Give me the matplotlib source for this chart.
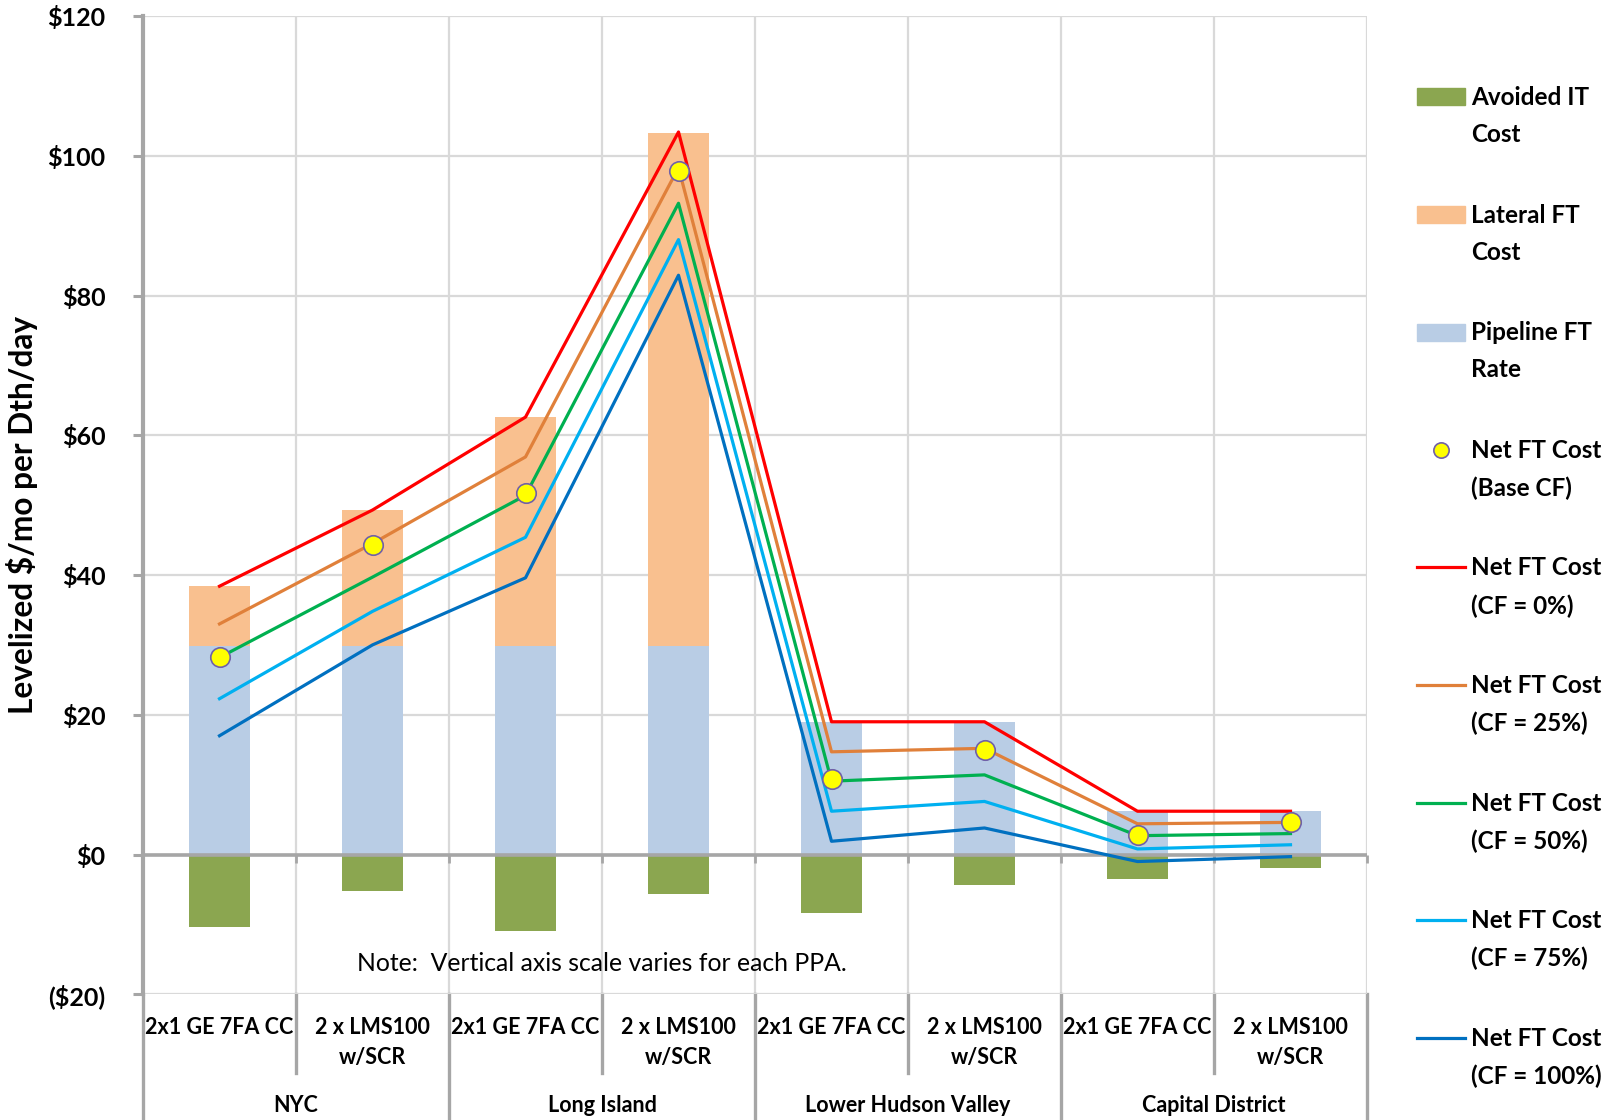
import numpy as np
import matplotlib
matplotlib.use("Agg")
from matplotlib import pyplot as plt
from matplotlib.lines import Line2D
from matplotlib.patches import Rectangle
import matplotlib.transforms as mtransforms

# ---------------- data ----------------
plants = ['2x1 GE 7FA CC', '2 x LMS100\nw/SCR'] * 4
regions = ['NYC', 'Long Island', 'Lower Hudson Valley', 'Capital District']

avoided_it = [-10.3, -5.2, -11.0, -5.6, -8.4, -4.3, -3.5, -1.9]
lateral_ft = [8.6, 19.5, 32.8, 73.4, 0.0, 0.0, 0.0, 0.0]
pipeline_ft = [29.8, 29.8, 29.8, 29.8, 19.0, 19.0, 6.2, 6.2]

net_base = [28.3, 44.3, 51.7, 97.8, 10.8, 15.0, 2.8, 4.6]
net_cf0 = [38.4, 49.3, 62.6, 103.4, 19.0, 19.0, 6.2, 6.2]
net_cf25 = [33.0, 44.5, 56.9, 98.3, 14.7, 15.2, 4.4, 4.6]
net_cf50 = [28.2, 39.7, 51.4, 93.2, 10.5, 11.4, 2.7, 3.0]
net_cf75 = [22.3, 34.8, 45.4, 88.0, 6.2, 7.6, 0.8, 1.4]
net_cf100 = [17.0, 30.0, 39.6, 82.9, 1.9, 3.8, -1.0, -0.3]

yticks = [-20, 0, 20, 40, 60, 80, 100, 120]
note = "Note:  Vertical axis scale varies for each PPA."

# ---------------- style ----------------
C_AVOID = '#8BA650'
C_LAT = '#F9C08F'
C_PIPE = '#B9CDE5'
C_LINES = ['#FF0000', '#E0803A', '#00B050', '#00B0F0', '#0070C0']
C_GRID = '#D9D9D9'
C_AXIS = '#A6A6A6'
FONT = 'Lato'

W, H = 1613, 1120
fig = plt.figure(figsize=(W / 100, H / 100), dpi=100)
ax = fig.add_axes([143 / W, 1 - 994.3 / H, (1367 - 143) / W, 978.3 / H])

x = np.arange(len(plants))
bw = 0.4

ax.bar(x, pipeline_ft, bw, color=C_PIPE, zorder=2)
ax.bar(x, lateral_ft, bw, bottom=pipeline_ft, color=C_LAT, zorder=2)
ax.bar(x, avoided_it, bw, color=C_AVOID, zorder=2)

ax.axhline(0, color=C_AXIS, lw=2.6, zorder=3)
bounds = np.arange(-0.5, len(plants) + 0.5, 1.0)
ax.plot(bounds[1:], np.zeros(len(bounds) - 1), ls='none', marker=3, ms=6,
        mew=2, color=C_AXIS, zorder=3, clip_on=False)

series = [net_cf100, net_cf75, net_cf50, net_cf25, net_cf0]
for vals, col in zip(series, C_LINES[::-1]):
    ax.plot(x, vals, color=col, lw=2.3, zorder=4)
ax.plot(x, net_base, ls='none', marker='o', ms=14, mfc='#FFFF00',
        mec='#7060A8', mew=1.2, zorder=5)

ax.text(2.5, -15.6, note, ha='center', va='center', fontsize=17.8,
        family=FONT, zorder=5)

ax.set_xlim(-0.5, len(plants) - 0.5)
ax.set_ylim(-20, 120)
ax.set_yticks(yticks)
ax.set_yticklabels([f'(${-v})' if v < 0 else f'${v}' for v in yticks],
                   fontsize=18, fontweight='bold', family=FONT)
ax.tick_params(axis='y', length=7, width=2.2, color=C_AXIS, pad=20)
ax.set_xticks([])
ax.grid(axis='y', color=C_GRID, lw=1.6, zorder=0)
for b in bounds[1:]:
    ax.axvline(b, color=C_GRID, lw=1.6, zorder=0)
for s in ['top', 'right', 'bottom']:
    ax.spines[s].set_visible(False)
ax.spines['left'].set_color(C_AXIS)
ax.spines['left'].set_linewidth(3)

ax.set_ylabel('Levelized $/mo per Dth/day', fontsize=22.8, fontweight='bold',
              family=FONT)
ax.yaxis.set_label_coords((22 - 143) / 1224, 0.49)
ax.yaxis.label.set_va('center')

# ---------------- two-level category axis ----------------
trans = mtransforms.blended_transform_factory(ax.transData, ax.transAxes)
fig_bottom = -ax.get_position().y0 / ax.get_position().height
inner_bottom = -(1073 - 994.3) / 978.3
for i, b in enumerate(bounds):
    low = fig_bottom if i % 2 == 0 else inner_bottom
    ax.plot([b, b], [0, low], color=C_AXIS, lw=2.4, transform=trans,
            clip_on=False, zorder=1)
for xi, lab in zip(x, plants):
    ax.text(xi, -(1017 - 994.3) / 978.3, lab, transform=trans, ha='center',
            va='top', fontsize=15.5, fontweight='bold', family=FONT,
            linespacing=1.55)
for gi, reg in enumerate(regions):
    ax.text(2 * gi + 0.5, -(1105 - 994.3) / 978.3, reg, transform=trans,
            ha='center', va='center', fontsize=15.5, fontweight='bold',
            family=FONT)

# ---------------- legend ----------------
leg_labels = ['Avoided IT\nCost', 'Lateral FT\nCost', 'Pipeline FT\nRate',
              'Net FT Cost\n(Base CF)', 'Net FT Cost\n(CF = 0%)',
              'Net FT Cost\n(CF = 25%)', 'Net FT Cost\n(CF = 50%)',
              'Net FT Cost\n(CF = 75%)', 'Net FT Cost\n(CF = 100%)']
leg_kinds = [('patch', C_AVOID), ('patch', C_LAT), ('patch', C_PIPE),
             ('marker', '#FFFF00')] + [('line', c) for c in C_LINES]

def fx(px):
    return px / W

def fy(py):
    return 1 - py / H

y0, dy = 97, 117.6
for k, (lab, (kind, col)) in enumerate(zip(leg_labels, leg_kinds)):
    yc = y0 + k * dy
    if kind == 'patch':
        fig.patches.append(Rectangle((fx(1417), fy(yc + 8.5)), fx(48), 17 / H,
                                     transform=fig.transFigure, color=col))
    elif kind == 'line':
        fig.lines.append(Line2D([fx(1417), fx(1465)], [fy(yc), fy(yc)],
                                transform=fig.transFigure, color=col, lw=2.3))
    else:
        fig.lines.append(Line2D([fx(1441)], [fy(yc)], transform=fig.transFigure,
                                marker='o', ms=11, mfc=col, mec='#7060A8',
                                mew=1.2, ls='none'))
    fig.text(fx(1471), fy(yc - 11), lab, ha='left', va='top', fontsize=17.5,
             fontweight='bold', family=FONT, linespacing=1.75)

fig.savefig('out.png', dpi=100)
